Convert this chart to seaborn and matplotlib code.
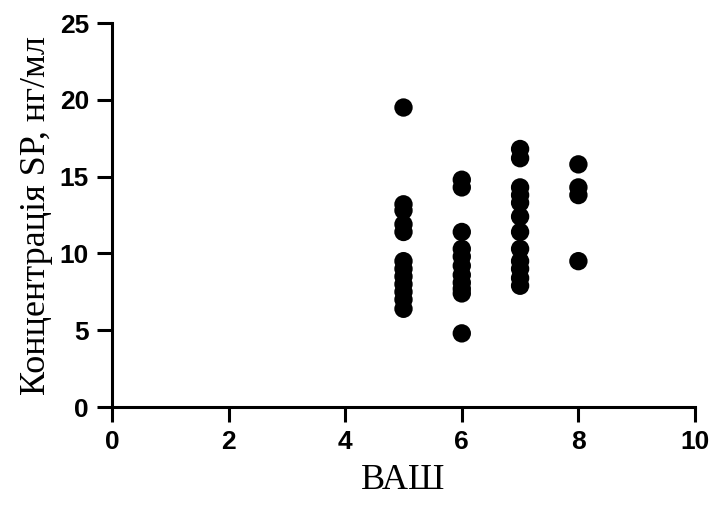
import matplotlib
matplotlib.use("Agg")
import matplotlib.pyplot as plt
import seaborn as sns
import pandas as pd

vas_5 = [19.5, 13.2, 12.8, 11.9, 11.4, 9.5, 9.0, 8.5, 8.0, 7.5, 7.0, 6.4]
vas_6 = [14.8, 14.3, 11.4, 10.3, 9.8, 9.2, 8.6, 8.1, 7.7, 7.4, 4.8]
vas_7 = [16.8, 16.2, 14.3, 13.8, 13.3, 12.4, 11.4, 10.3, 9.5, 9.0, 8.4, 7.9]
vas_8 = [15.8, 14.3, 13.8, 9.5]

x_ticks = [0, 2, 4, 6, 8, 10]
y_ticks = [0, 5, 10, 15, 20, 25]
x_label = "ВАШ"
y_label = "Концентрація SP, нг/мл"

rows = []
for score, vals in [(5, vas_5), (6, vas_6), (7, vas_7), (8, vas_8)]:
    for v in vals:
        rows.append({"ВАШ": score, "SP": v})
df = pd.DataFrame(rows)

sns.set_style("ticks")
plt.rcParams['font.family'] = ['Liberation Sans', 'DejaVu Sans']

fig = plt.figure(figsize=(7.11, 5.07), dpi=100)
ax = fig.add_axes([0.1575, 0.197, 0.82, 0.7576])

sns.scatterplot(data=df, x="ВАШ", y="SP", ax=ax, color="black", s=175,
                edgecolor="none", linewidth=0, legend=False, clip_on=False, zorder=3)

ax.set_xlim(0, 10)
ax.set_ylim(0, 25)
ax.tick_params(axis="both", direction="out", length=10.5, width=2.2, color="black",
               labelcolor="black", labelsize=19)
ax.tick_params(axis="x", pad=6)
ax.tick_params(axis="y", pad=6)
ax.set_xticks(x_ticks)
ax.set_yticks(y_ticks)
ax.set_xticklabels([str(t) for t in x_ticks], fontsize=19, fontweight="bold")
ax.set_yticklabels([str(t) for t in y_ticks], fontsize=19, fontweight="bold")
for side in ["top", "right"]:
    ax.spines[side].set_visible(False)
for side in ["left", "bottom"]:
    ax.spines[side].set_linewidth(2.2)
    ax.spines[side].set_color("black")

ax.set_xlabel(x_label, fontsize=26, family="Liberation Serif", labelpad=7, color="black")
ax.set_ylabel(y_label, fontsize=26, family="Liberation Serif", labelpad=5, color="black")

fig.savefig("out.png", dpi=100)
